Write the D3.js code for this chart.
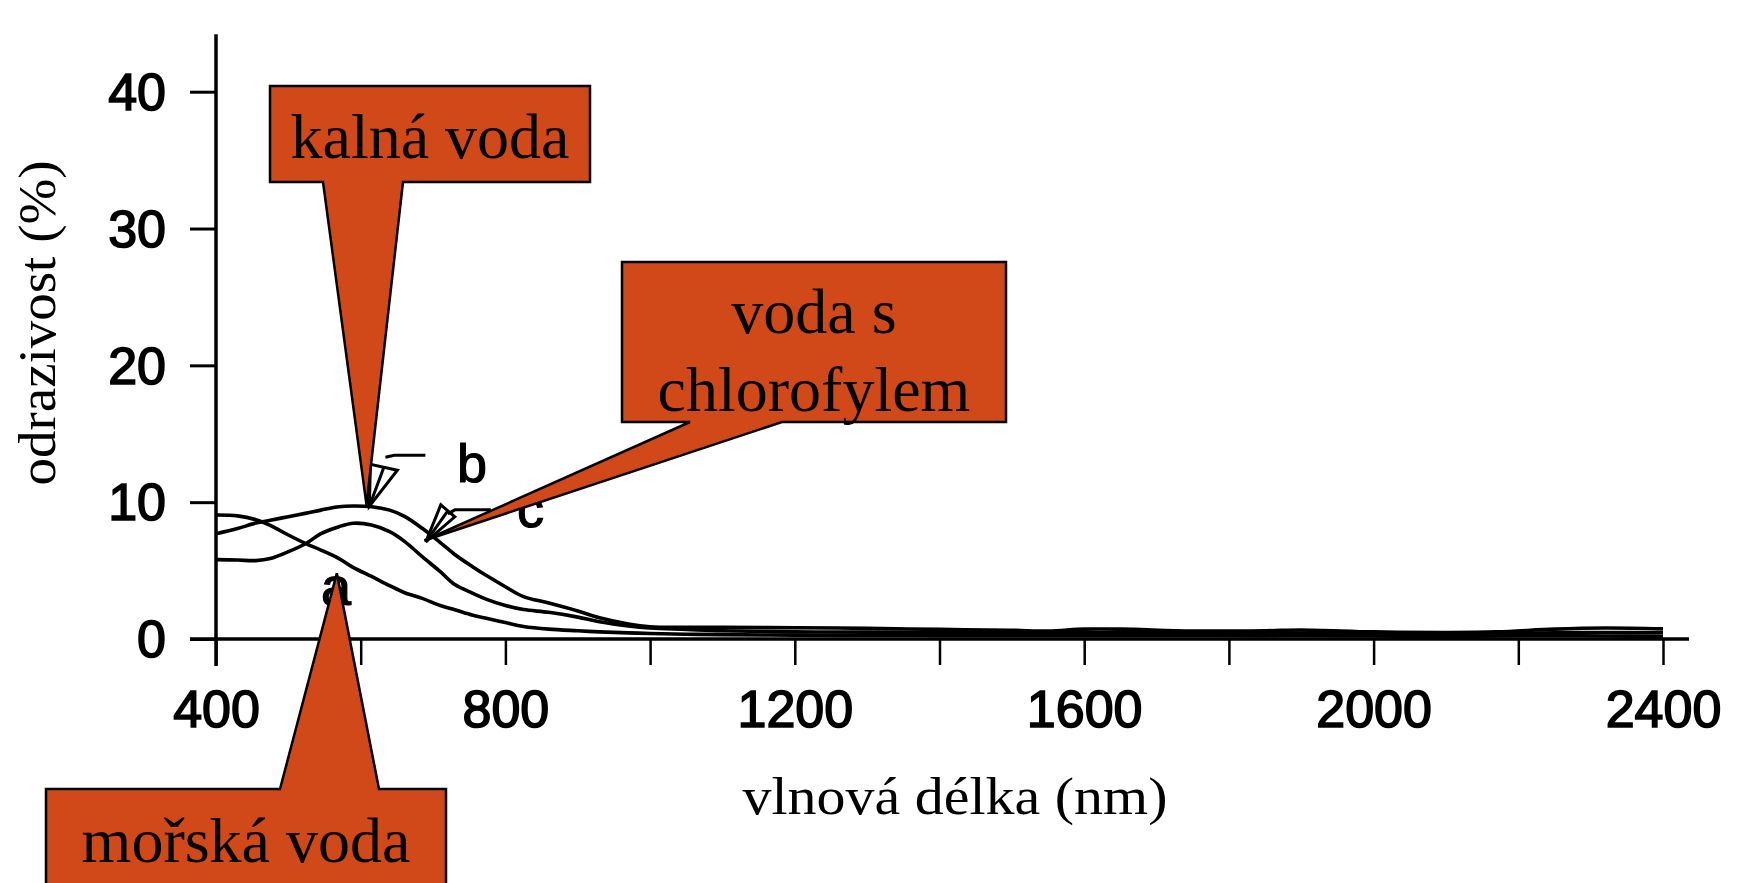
<!DOCTYPE html>
<html lang="cs">
<head>
<meta charset="utf-8">
<title>Spektrální odrazivost vody</title>
<script src="https://cdn.jsdelivr.net/npm/d3@7/dist/d3.min.js"></script>
<style>
  html, body { margin: 0; padding: 0; background: #ffffff; }
  svg { display: block; }
  .tick-label { font-family: "Liberation Sans", Arial, Helvetica, sans-serif; }
  .serif { font-family: "Liberation Serif", "Times New Roman", Times, serif; }
</style>
</head>
<body>
<svg id="chart" width="1742" height="883"></svg>
<script>
// Wavelength samples (nm) shared by the three reflectance curves
const wavelength = [400, 430, 455, 475, 500, 525, 545, 570, 590, 615, 640, 660, 685, 710, 730, 755, 775, 800, 825, 860, 900, 930, 970, 1000, 1050, 1100, 1200, 1300, 1400, 1500, 1550, 1600, 1650, 1750, 1850, 1900, 2000, 2100, 2170, 2250, 2320, 2400];

// a – mořská voda (reflectance, %)
const seaWater = [9.06, 9.0, 8.72, 8.3, 7.6, 6.95, 6.5, 5.88, 5.22, 4.57, 3.9, 3.4, 2.97, 2.45, 2.14, 1.74, 1.5, 1.2, 0.92, 0.72, 0.6, 0.52, 0.45, 0.4, 0.35, 0.32, 0.28, 0.26, 0.25, 0.25, 0.24, 0.24, 0.25, 0.24, 0.23, 0.24, 0.22, 0.2, 0.22, 0.24, 0.22, 0.2];

// b – kalná voda (reflectance, %)
const turbidWater = [7.7, 8.08, 8.47, 8.68, 8.94, 9.2, 9.42, 9.67, 9.72, 9.67, 9.42, 8.98, 8.09, 7.05, 6.18, 5.27, 4.6, 3.82, 3.1, 2.63, 2.05, 1.55, 1.1, 0.9, 0.86, 0.85, 0.82, 0.78, 0.7, 0.64, 0.58, 0.72, 0.72, 0.58, 0.6, 0.66, 0.52, 0.48, 0.52, 0.72, 0.8, 0.74];

// c – voda s chlorofylem (reflectance, %)
const chlorophyllWater = [5.8, 5.77, 5.73, 5.88, 6.38, 7.0, 7.7, 8.21, 8.46, 8.33, 7.84, 7.15, 6.02, 4.92, 3.98, 3.34, 2.88, 2.45, 2.15, 1.95, 1.6, 1.26, 0.95, 0.8, 0.7, 0.6, 0.52, 0.5, 0.47, 0.46, 0.44, 0.46, 0.48, 0.44, 0.43, 0.43, 0.4, 0.36, 0.38, 0.45, 0.47, 0.46];

// Axis ticks
const xTickValues = [400, 600, 800, 1000, 1200, 1400, 1600, 1800, 2000, 2200, 2400];
const xTickLabels = ["400", "", "800", "", "1200", "", "1600", "", "2000", "", "2400"];
const yTickValues = [0, 10, 20, 30, 40];
const yTickLabels = ["0", "10", "20", "30", "40"];

// Axis titles
const xTitle = "vlnová délka (nm)";
const yTitle = "odrazivost (%)";

// Curve letters and the points (nm, %) their arrows point at
const curveLetters = ["a", "b", "c"];
const letterAnchors = [[566, 2.49], [733, 11.48], [816, 8.19]];
const arrowTips = [null, [612, 9.7], [690, 7.1]];

// Callout texts and the points (nm, %) they point at
const calloutLines = [["kalná voda"], ["voda s", "chlorofylem"], ["mořská voda"]];
const calloutTips = [[608, 9.8], [688, 7.2], [567, 4.8]];

const svg = d3.select("#chart");

const x = d3.scaleLinear().domain([400, 2400]).range([216, 1663]);
const y = d3.scaleLinear().domain([0, 40]).range([639, 91.7]);

// --- axes ---------------------------------------------------------------
const yAxis = d3.axisLeft(y)
  .tickValues(yTickValues)
  .tickFormat((d, i) => yTickLabels[i])
  .tickSize(26)
  .tickPadding(24);

const gy = svg.append("g")
  .attr("transform", `translate(${x(400)},0)`)
  .call(yAxis);
gy.select(".domain").remove();
gy.selectAll(".tick line").attr("stroke", "#000").attr("stroke-width", 3);
gy.selectAll(".tick text")
  .attr("class", "tick-label")
  .attr("font-size", 52)
  .attr("fill", "#000")
  .attr("stroke", "#000")
  .attr("stroke-width", 1.6)
  .attr("dy", "0.34em");

const xAxis = d3.axisBottom(x)
  .tickValues(xTickValues)
  .tickFormat((d, i) => xTickLabels[i])
  .tickSize(26)
  .tickPadding(25);

const gx = svg.append("g")
  .attr("transform", `translate(0,${y(0)})`)
  .call(xAxis);
gx.select(".domain").remove();
gx.selectAll(".tick line").attr("stroke", "#000").attr("stroke-width", 2.5);
gx.selectAll(".tick text")
  .attr("class", "tick-label")
  .attr("font-size", 52)
  .attr("fill", "#000")
  .attr("stroke", "#000")
  .attr("stroke-width", 1.6);

// axis lines, drawn a little past the data range on both ends
const yAxisTop = y(44.2), yAxisBottom = y(0) + 27;
const xAxisLeft = x(400) - 26, xAxisRight = x(2436);
svg.append("line")
  .attr("x1", x(400)).attr("x2", x(400))
  .attr("y1", yAxisTop).attr("y2", yAxisBottom)
  .attr("stroke", "#000").attr("stroke-width", 3.5);
svg.append("line")
  .attr("x1", xAxisLeft).attr("x2", xAxisRight)
  .attr("y1", y(0)).attr("y2", y(0))
  .attr("stroke", "#000").attr("stroke-width", 3.5);

// axis titles
svg.append("text")
  .attr("class", "serif")
  .attr("transform", "translate(55,323) rotate(-90)")
  .attr("text-anchor", "middle")
  .attr("font-size", 52)
  .attr("textLength", 325)
  .attr("lengthAdjust", "spacingAndGlyphs")
  .attr("fill", "#000")
  .text(yTitle);

svg.append("text")
  .attr("class", "serif")
  .attr("x", 955)
  .attr("y", 814)
  .attr("text-anchor", "middle")
  .attr("font-size", 53)
  .attr("textLength", 425)
  .attr("lengthAdjust", "spacingAndGlyphs")
  .attr("fill", "#000")
  .text(xTitle);

// --- reflectance curves -------------------------------------------------
const series = [seaWater, turbidWater, chlorophyllWater];
const line = d3.line()
  .x((d, i) => x(wavelength[i]))
  .y(d => y(d))
  .curve(d3.curveCatmullRom.alpha(0.5));

svg.append("g")
  .selectAll("path")
  .data(series)
  .join("path")
  .attr("d", line)
  .attr("fill", "none")
  .attr("stroke", "#000")
  .attr("stroke-width", 3.6)
  .attr("stroke-linejoin", "round");

// --- curve letters with their little arrows -----------------------------
svg.append("g")
  .selectAll("text")
  .data(curveLetters)
  .join("text")
  .attr("class", "tick-label")
  .attr("x", (d, i) => x(letterAnchors[i][0]))
  .attr("y", (d, i) => y(letterAnchors[i][1]))
  .attr("text-anchor", (d, i) => i === 0 ? "middle" : "start")
  .attr("font-size", 54)
  .attr("fill", "#000")
  .attr("stroke", "#000")
  .attr("stroke-width", 1.2)
  .text(d => d);

// open arrowheads with a short leader line: [triangle, leader] offsets from tip
const arrowShapes = [
  null,
  { tri: [[0, 0], [1, -42], [28, -36]], lead: [[16, -49], [25, -51], [56, -51]] },
  { tri: [[0, 0], [15, -37], [29, -25]], lead: [[22, -28], [29, -32], [65, -32]] }
];
arrowTips.forEach((tip, i) => {
  if (!tip) return;
  const tx = x(tip[0]), ty = y(tip[1]);
  const s = arrowShapes[i];
  const g = svg.append("g").attr("stroke", "#000").attr("stroke-width", 3).attr("fill", "none");
  g.append("path")
    .attr("d", d3.line()(s.tri.map(p => [tx + p[0], ty + p[1]])) + "Z")
    .attr("fill", "#fff");
  const mid = [(s.tri[1][0] + s.tri[2][0]) / 2, (s.tri[1][1] + s.tri[2][1]) / 2];
  g.append("path")
    .attr("d", d3.line()([[tx, ty], [tx + mid[0], ty + mid[1]]]));
  g.append("path")
    .attr("d", d3.line()(s.lead.map(p => [tx + p[0], ty + p[1]])));
});

// --- callouts -----------------------------------------------------------
// box: [left, top, right, bottom]; wedge: which edge and base x-span
const calloutLayout = [
  { box: [270, 86, 590, 182], edge: "bottom", base: [323, 403], lineY: [158], fontSize: 64 },
  { box: [622, 262, 1006, 422], edge: "bottom", base: [690, 782], lineY: [333, 411], fontSize: 64 },
  { box: [46, 789, 446, 900], edge: "top", base: [280, 379], lineY: [862], fontSize: 64 }
];

function calloutPath(L, tip) {
  const [x0, y0, x1, y1] = L.box;
  const [b0, b1] = L.base;
  const [tx, ty] = tip;
  if (L.edge === "bottom") {
    return `M${x0},${y0}H${x1}V${y1}H${b1}L${tx},${ty}L${b0},${y1}H${x0}Z`;
  }
  return `M${x0},${y0}H${b0}L${tx},${ty}L${b1},${y0}H${x1}V${y1}H${x0}Z`;
}

const callouts = svg.append("g");
calloutLines.forEach((lines, i) => {
  const L = calloutLayout[i];
  const tip = [x(calloutTips[i][0]), y(calloutTips[i][1])];
  callouts.append("path")
    .attr("d", calloutPath(L, tip))
    .attr("fill", "#D14918")
    .attr("stroke", "#000")
    .attr("stroke-width", 2.5)
    .attr("stroke-linejoin", "miter");
  lines.forEach((t, j) => {
    callouts.append("text")
      .attr("class", "serif")
      .attr("x", (L.box[0] + L.box[2]) / 2)
      .attr("y", L.lineY[j])
      .attr("text-anchor", "middle")
      .attr("font-size", L.fontSize)
      .attr("fill", "#000")
      .text(t);
  });
});
</script>
</body>
</html>
